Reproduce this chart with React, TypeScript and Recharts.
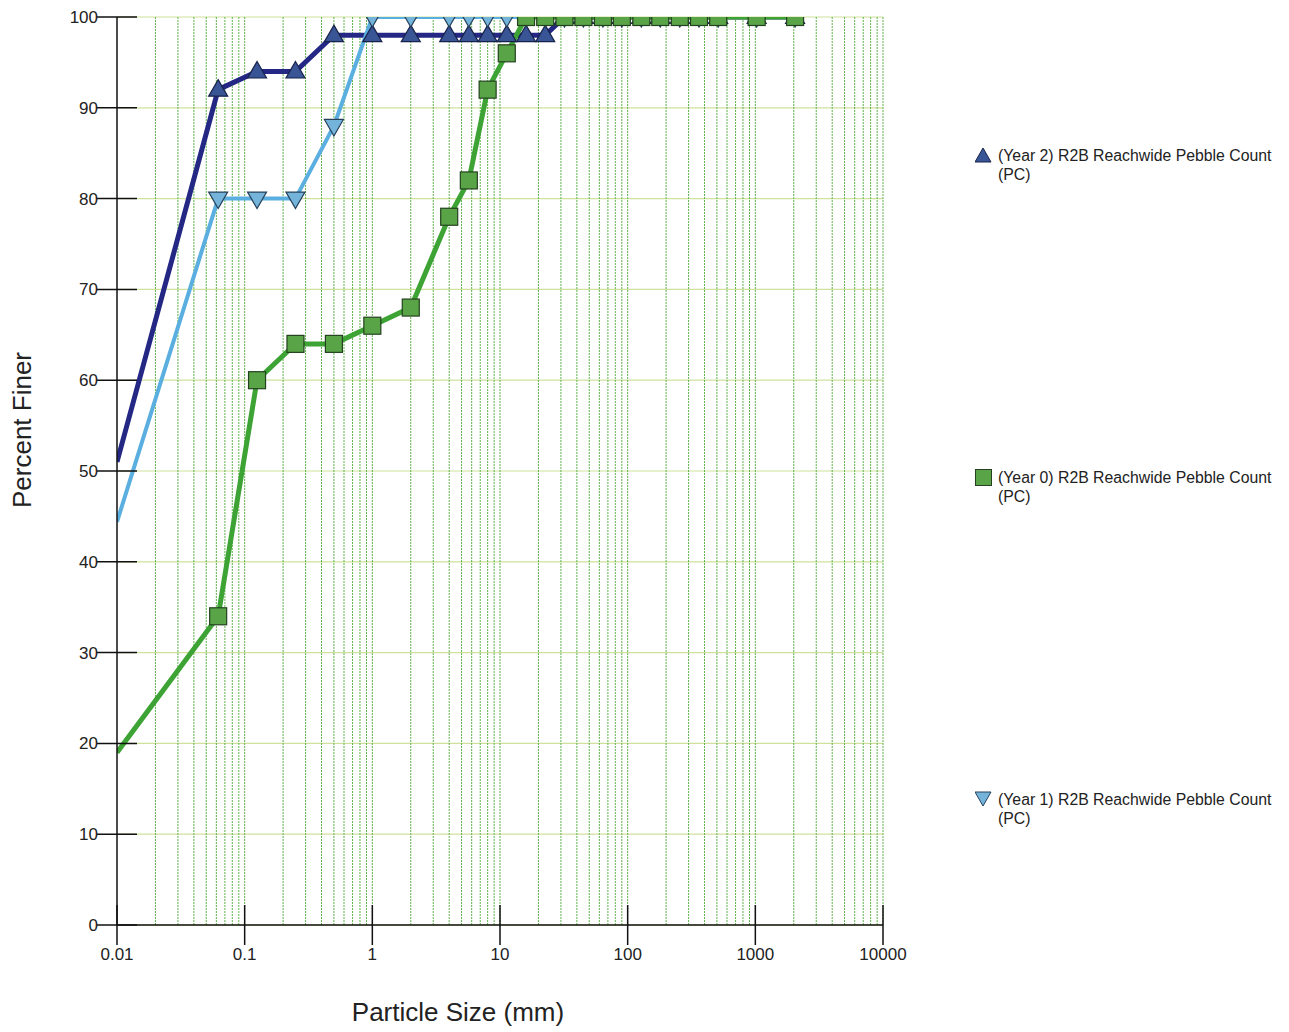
import React from "react";
import {
  LineChart,
  Line,
  XAxis,
  YAxis,
  CartesianGrid,
  ReferenceLine,
  Label,
} from "recharts";

// particle sizes (mm) and percent finer
const year0Sizes = [0.01, 0.062, 0.125, 0.25, 0.5, 1, 2, 4, 5.7, 8, 11.3, 16, 22.6, 32, 45, 64, 90, 128, 180, 256, 362, 512, 1024, 2048];
const year0Finer = [19, 34, 60, 64, 64, 66, 68, 78, 82, 92, 96, 100, 100, 100, 100, 100, 100, 100, 100, 100, 100, 100, 100, 100];

const year1Sizes = [0.01, 0.062, 0.125, 0.25, 0.5, 1, 2, 4, 5.7, 8, 11.3, 16, 22.6, 32, 45, 64, 90, 128, 180, 256, 362, 512, 1024, 2048];
const year1Finer = [44.4, 80, 80, 80, 88, 100, 100, 100, 100, 100, 100, 100, 100, 100, 100, 100, 100, 100, 100, 100, 100, 100, 100, 100];

const year2Sizes = [0.01, 0.062, 0.125, 0.25, 0.5, 1, 2, 4, 5.7, 8, 11.3, 16, 22.6, 32, 45, 64, 90, 128, 180, 256, 362, 512, 1024, 2048];
const year2Finer = [51, 92, 94, 94, 98, 98, 98, 98, 98, 98, 98, 98, 98, 100, 100, 100, 100, 100, 100, 100, 100, 100, 100, 100];

const xTicks = [0.01, 0.1, 1, 10, 100, 1000, 10000];
const yTicks = [0, 10, 20, 30, 40, 50, 60, 70, 80, 90, 100];

const legendLabels = [
  "(Year 2) R2B Reachwide Pebble Count",
  "(Year 0) R2B Reachwide Pebble Count",
  "(Year 1) R2B Reachwide Pebble Count",
];

const FONT = "'Liberation Sans', Arial, Helvetica, sans-serif";

const toRows = (sizes: number[], finer: number[]) =>
  sizes.map((size, i) => ({ size, finer: finer[i] }));

const year0Data = toRows(year0Sizes, year0Finer);
const year1Data = toRows(year1Sizes, year1Finer);
const year2Data = toRows(year2Sizes, year2Finer);

// log-cycle gridlines: 1..9 in every decade
const minorLines: number[] = [];
for (let d = -2; d < 4; d++) {
  for (let m = 1; m <= 9; m++) {
    if (d === -2 && m === 1) continue;
    minorLines.push(Number((m * Math.pow(10, d)).toPrecision(3)));
  }
}
minorLines.push(10000);

const UpTri = (props: any) => {
  const { cx, cy, index } = props;
  if (index === 0 || cx == null) return <g key={`u${index}`} />;
  return (
    <path
      key={`u${index}`}
      d={`M${cx},${cy - 10} L${cx + 9.5},${cy + 6.5} L${cx - 9.5},${cy + 6.5} Z`}
      fill="#3a5596"
      stroke="#17224a"
      strokeWidth={1.2}
    />
  );
};

const DownTri = (props: any) => {
  const { cx, cy, index } = props;
  if (index === 0 || cx == null) return <g key={`d${index}`} />;
  return (
    <path
      key={`d${index}`}
      d={`M${cx - 9.5},${cy - 6.5} L${cx + 9.5},${cy - 6.5} L${cx},${cy + 10} Z`}
      fill="#74b4da"
      stroke="#27405a"
      strokeWidth={1.2}
    />
  );
};

const Square = (props: any) => {
  const { cx, cy, index } = props;
  if (index === 0 || cx == null) return <g key={`s${index}`} />;
  return (
    <rect
      key={`s${index}`}
      x={cx - 8.5}
      y={cy - 8.5}
      width={17}
      height={17}
      fill="#58a447"
      stroke="#24421f"
      strokeWidth={1.2}
    />
  );
};

const XTick = (props: any) => {
  const { x, y, payload } = props;
  return (
    <g>
      <line x1={x} x2={x} y1={y - 42} y2={y - 2} stroke="#111" strokeWidth={1.5} />
      <text x={x} y={y} dy="0.75em" textAnchor="middle" fontSize={17} fill="#222" fontFamily={FONT}>
        {payload.value}
      </text>
    </g>
  );
};

const YTick = (props: any) => {
  const { x, y, payload } = props;
  return (
    <g>
      <line x1={x + 2} x2={x + 42} y1={y} y2={y} stroke="#111" strokeWidth={1.5} />
      <text x={x + 3} y={y} dy="0.355em" textAnchor="end" fontSize={17} fill="#222" fontFamily={FONT}>
        {payload.value}
      </text>
    </g>
  );
};

const YTitle = (props: any) => {
  const { viewBox } = props;
  const cx = viewBox.x + 14;
  const cy = viewBox.y + viewBox.height / 2 - 41;
  return (
    <text
      x={cx}
      y={cy}
      transform={`rotate(-90 ${cx} ${cy})`}
      textAnchor="middle"
      dominantBaseline="central"
      fontSize={26}
      fill="#222"
      fontFamily={FONT}
    >
      Percent Finer
    </text>
  );
};

const XTitle = (props: any) => {
  const { viewBox } = props;
  const cx = viewBox.x + viewBox.width / 2 - 42;
  const cy = viewBox.y + 87;
  return (
    <text x={cx} y={cy} textAnchor="middle" dominantBaseline="central" fontSize={26} fill="#222" fontFamily={FONT}>
      Particle Size (mm)
    </text>
  );
};

const legendMarks = [
  <path key="m0" d="M8,1 L16,15 L0,15 Z" fill="#3a5596" stroke="#17224a" strokeWidth={1} />,
  <rect key="m1" x={0.5} y={0.5} width={16} height={16} fill="#58a447" stroke="#24421f" strokeWidth={1} />,
  <path key="m2" d="M0,1 L16,1 L8,15 Z" fill="#74b4da" stroke="#27405a" strokeWidth={1} />,
];
const legendTops = [138, 460, 782];

export default function App() {
  return (
    <div style={{ position: "relative", width: 1273, height: 1022, fontFamily: FONT }}>
      <LineChart
        width={1273}
        height={1022}
        margin={{ top: 9, right: 398, bottom: 45, left: 0 }}
      >
        <CartesianGrid vertical={false} stroke="#cfe29c" strokeWidth={1.2} />
        {minorLines.map((v) => (
          <ReferenceLine
            key={v}
            x={v}
            stroke="#5fb34c"
            strokeWidth={1}
            strokeDasharray="2 1"
          />
        ))}
        <XAxis
          type="number"
          dataKey="size"
          scale="log"
          domain={[0.01, 10000]}
          ticks={xTicks}
          interval={0}
          allowDataOverflow
          height={60}
          tickSize={20}
          tickMargin={2}
          tickLine={false}
          tick={<XTick />}
          axisLine={{ stroke: "#111", strokeWidth: 1.5 }}
        >
          <Label content={<XTitle />} />
        </XAxis>
        <YAxis
          type="number"
          domain={[0, 100]}
          ticks={yTicks}
          interval={0}
          allowDataOverflow
          width={109}
          tickSize={20}
          tickMargin={2}
          tickLine={false}
          tick={<YTick />}
          axisLine={{ stroke: "#111", strokeWidth: 1.5 }}
        >
          <Label content={<YTitle />} />
        </YAxis>
        <Line
          data={year2Data}
          dataKey="finer"
          name={legendLabels[0]}
          type="linear"
          stroke="#242884"
          strokeWidth={5}
          dot={UpTri}
          activeDot={false}
          isAnimationActive={false}
        />
        <Line
          data={year1Data}
          dataKey="finer"
          name={legendLabels[2]}
          type="linear"
          stroke="#5aafe0"
          strokeWidth={4}
          dot={DownTri}
          activeDot={false}
          isAnimationActive={false}
        />
        <Line
          data={year0Data}
          dataKey="finer"
          name={legendLabels[1]}
          type="linear"
          stroke="#3da334"
          strokeWidth={5}
          dot={Square}
          activeDot={false}
          isAnimationActive={false}
        />
      </LineChart>
      {legendLabels.map((label, i) => (
        <div
          key={label}
          style={{
            position: "absolute",
            left: 967,
            top: legendTops[i],
            display: "flex",
            alignItems: "flex-start",
            fontSize: 15.8,
            lineHeight: "19px",
            color: "#222",
          }}
        >
          <svg width={17} height={17} style={{ marginTop: 1, marginRight: 6, flex: "none" }}>
            {legendMarks[i]}
          </svg>
          <div style={{ width: 295 }}>
            {label}
            <br />
            (PC)
          </div>
        </div>
      ))}
    </div>
  );
}
